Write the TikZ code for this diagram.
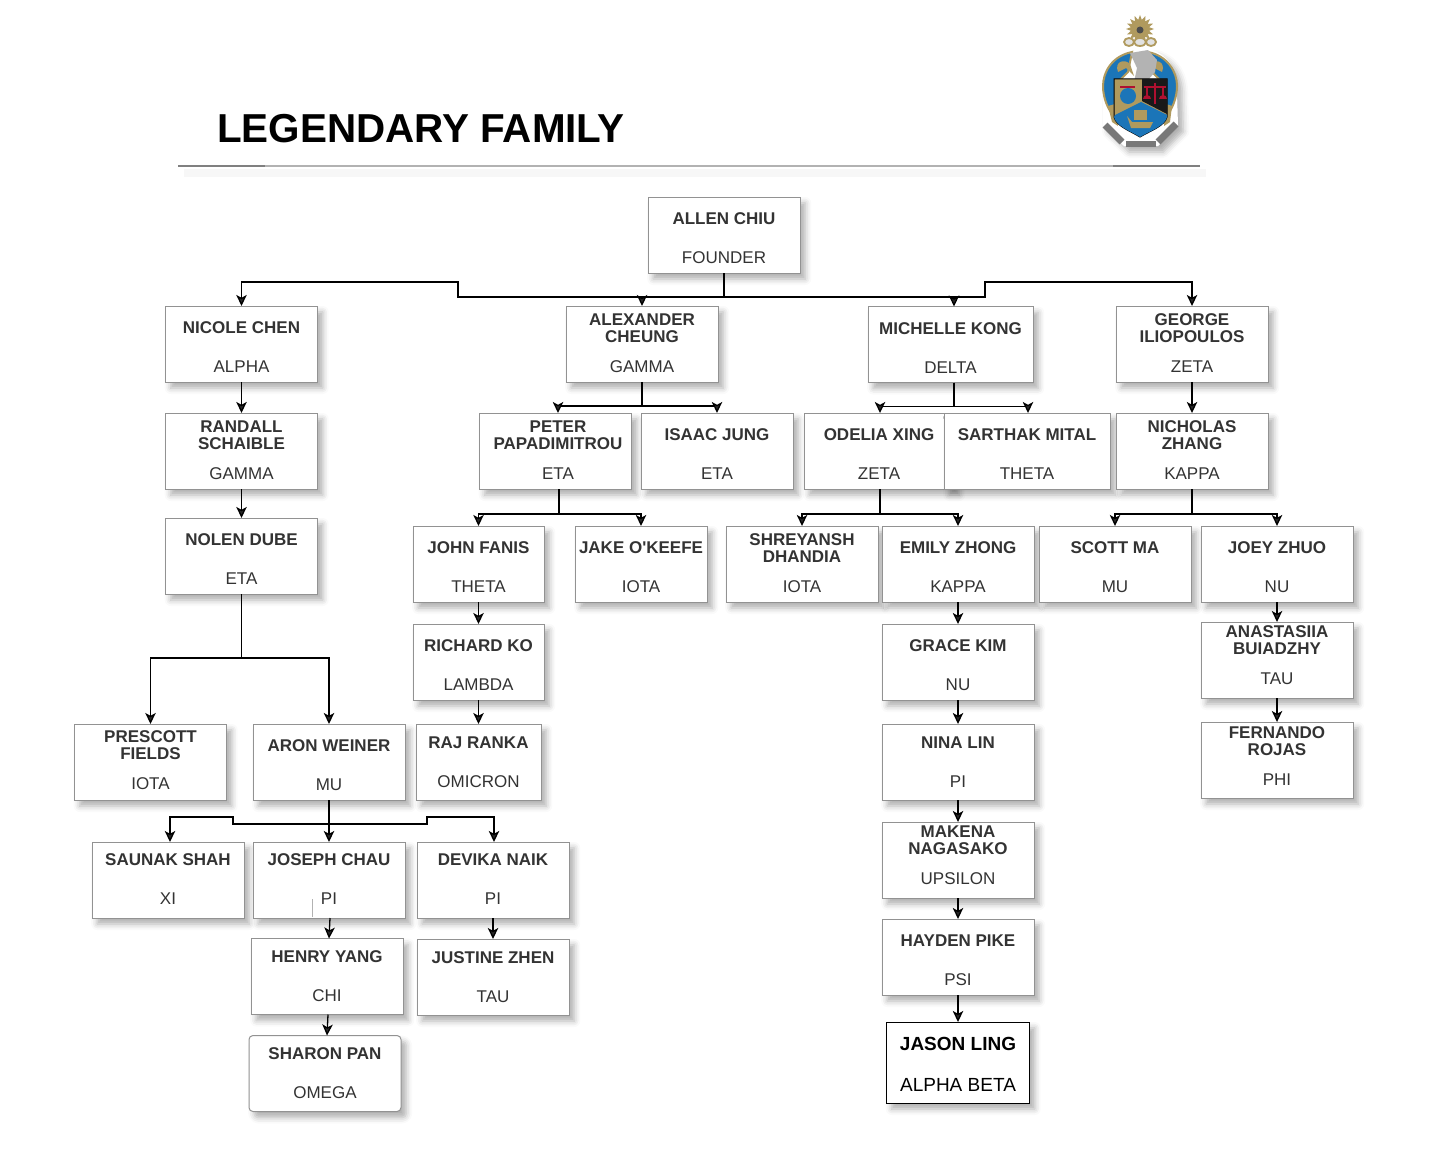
\documentclass[tikz,border=0pt]{standalone}
\usepackage{fontspec}
\setmainfont{Liberation Sans}
\usepackage{xcolor}
\usepackage{tikz}
\usetikzlibrary{arrows.meta,positioning,shapes.geometric,shadows.blur}
\definecolor{boxedge}{HTML}{929292}
\definecolor{boxtext}{HTML}{333333}
\definecolor{crestgold}{HTML}{B09A5E}
\definecolor{crestblue}{HTML}{1B75B8}
\definecolor{crestred}{HTML}{B01030}
\definecolor{crestgrey}{HTML}{A0A0A0}

\begin{document}
\begin{tikzpicture}[
  x=0.5pt,y=-0.5pt,
  softblur/.style={blur shadow={shadow xshift=2.6pt,shadow yshift=-3pt,shadow blur radius=3pt,shadow opacity=32}},
  box/.style={draw=boxedge,fill=white,line width=0.5pt,minimum width=76pt,minimum height=38pt,inner sep=0pt,outer sep=0pt,align=center,text=boxtext,
    font=\fontsize{8.5}{8.5}\selectfont,softblur},
  textdown/.style={execute at begin node={\rule{0pt}{#1}}},
  textup/.style={execute at end node={\rule[-#1]{0pt}{0pt}}},
  onename/.style={box,textdown=28.7pt},
  twoname/.style={box,textup=1pt},
  arr/.style={-{Stealth[length=5.5pt,width=5.2pt,inset=1.4pt]},line width=0.65pt},
  rule/.style={line width=0.8pt}
]
\useasboundingbox (0,0) rectangle (1438,1172);
\node[font=\bfseries\fontsize{20.2}{20.2}\selectfont] (title) at (421,129) {LEGENDARY FAMILY};
\coordinate (ruleleft) at (178,166);
\coordinate (rulemidl) at (265,166);
\coordinate (rulemidr) at (1113,166);
\coordinate (ruleright) at (1200,166);
\draw[draw=black!3,line width=4pt] ([xshift=3pt,yshift=-3.5pt]ruleleft) -- ([xshift=3pt,yshift=-3.5pt]ruleright);
\draw[rule,draw=black!30] (rulemidl) -- (rulemidr);
\draw[rule,draw=black!50] (ruleleft) -- (rulemidl);
\draw[rule,draw=black!50] (rulemidr) -- (ruleright);

% crest
\path[fill=white,softblur] (1128,50) -- (1152,50) .. controls (1170,56) and (1178,72) .. (1177,92) -- (1178,126) -- (1158,146) -- (1124,146) -- (1103,126) -- (1103,80) .. controls (1106,66) and (1114,56) .. (1128,50) -- cycle;
\node[star,star points=16,star point ratio=1.5,fill=crestgold,minimum size=14pt,inner sep=0pt] (crestsun) at (1140,29) {};
\node[circle,fill=black!70,minimum size=3.5pt,inner sep=0pt] (crestcore) at (1140,30) {};
\draw[crestgold,line width=0.9pt,fill=crestgrey!30] (1129,42) ellipse (5 and 4) (1140,42) ellipse (6 and 4) (1151,42) ellipse (5 and 4);
\draw[crestgold,line width=1pt,fill=crestblue] (1132,52) .. controls (1112,56) and (1103,72) .. (1103,86) .. controls (1103,98) and (1108,110) .. (1114,116) -- (1116,84) -- (1128,72) -- cycle;
\draw[crestgold,line width=1pt,fill=crestblue] (1148,52) .. controls (1168,56) and (1177,72) .. (1177,86) .. controls (1177,98) and (1172,110) .. (1166,116) -- (1164,84) -- (1152,72) -- cycle;
\fill[crestgold] (1118,72) .. controls (1114,62) and (1124,58) .. (1130,64) -- (1134,76) -- (1126,68) -- cycle;
\fill[crestgold] (1162,72) .. controls (1166,62) and (1156,58) .. (1150,64) -- (1146,76) -- (1154,68) -- cycle;
\fill[crestgold] (1108,106) -- (1115,104) -- (1118,126) -- (1112,122) -- cycle;
\fill[crestgold] (1172,106) -- (1166,104) -- (1164,126) -- (1170,122) -- cycle;
\fill[crestgrey!80] (1130,53) -- (1148,50) -- (1157,60) -- (1155,72) -- (1148,80) -- (1134,82) -- (1137,68) -- cycle;
\draw[crestgrey!75!black,line width=3.4pt] (1105,125) -- (1122,142);
\draw[crestgrey!75!black,line width=3.4pt] (1126,144) -- (1156,144);
\draw[crestgrey!75!black,line width=3.4pt] (1158,142) -- (1176,124);
\draw[black,fill=crestgold,line width=0.5pt] (1114,79) -- (1167,79) -- (1167,117) .. controls (1165,126) and (1150,131) .. (1140,137) .. controls (1130,131) and (1116,126) .. (1114,117) -- cycle;
\fill[black!90] (1142,79) -- (1167,79) -- (1167,114) -- (1142,101) -- cycle;
\fill[crestblue] (1141,102) -- (1167,115) -- (1167,117) .. controls (1165,126) and (1150,131) .. (1140,137) .. controls (1130,131) and (1116,126) .. (1114,117) -- (1115,115) -- cycle;
\fill[crestblue] (1128,96) circle (8);
\draw[crestred,line width=1pt] (1120,87) -- (1135,87);
\draw[crestred,line width=0.8pt] (1155,83) -- (1155,104) (1144,87) -- (1166,87) (1147,87) -- (1147,99) (1163,87) -- (1163,99);
\fill[crestred] (1143,99) arc (180:360:4) -- cycle (1159,99) arc (180:360:4) -- cycle;
\fill[crestgold] (1134,110) rectangle (1147,120);
\fill[crestgold] (1127,116) -- (1132,122) -- (1153,122) -- (1150,128) -- (1131,128) -- cycle;

\node[onename] (allen) at (724,235) {\textbf{ALLEN CHIU}\\[11pt]FOUNDER};

\node[onename] (nicole) at (241.5,344) {\textbf{NICOLE CHEN}\\[11pt]ALPHA};
\node[twoname,below=15.5pt of nicole] (randall) {\textbf{RANDALL}\\\textbf{SCHAIBLE}\\[6.5pt]GAMMA};
\node[onename,below=14.5pt of randall] (nolen) {\textbf{NOLEN DUBE}\\[11pt]ETA};
\node[twoname,textup=2pt] (prescott) at (150.5,762) {\textbf{PRESCOTT}\\\textbf{FIELDS}\\[6.5pt]IOTA};
\node[onename] (aron) at (329,762) {\textbf{ARON WEINER}\\[11pt]MU};
\node[box,textup=1pt] (saunak) at (168,880) {\textbf{SAUNAK SHAH}\\[11pt]XI};
\node[box,textup=1pt,below=21pt of aron] (joseph) {\textbf{JOSEPH CHAU}\\[11pt]PI};
\node[box,textup=1pt] (devika) at (493,880) {\textbf{DEVIKA NAIK}\\[11pt]PI};
\node[box,below=10.5pt of devika] (justine) {\textbf{JUSTINE ZHEN}\\[11pt]TAU};
\node[box] (henry) at (327,976.5) {\textbf{HENRY YANG}\\[11pt]CHI};
\node[box,rounded corners=2pt,below=10.5pt of henry,xshift=-1pt] (sharon) {\textbf{SHARON PAN}\\[11pt]OMEGA};

\node[twoname] (alexander) at (642,344) {\textbf{ALEXANDER}\\\textbf{CHEUNG}\\[6.5pt]GAMMA};
\node[twoname] (peter) at (555.5,451) {\hspace*{2.5pt}\textbf{PETER}\\\hspace*{2.5pt}\textbf{PAPADIMITROU}\\[6.5pt]\hspace*{2.5pt}ETA};
\node[onename] (isaac) at (717,451) {\textbf{ISAAC JUNG}\\[11pt]ETA};
\node[onename,minimum width=65.5pt] (john) at (478.5,564) {\textbf{JOHN FANIS}\\[11pt]THETA};
\node[onename,minimum width=66pt] (jake) at (641,564) {\textbf{JAKE O\textquotesingle KEEFE}\\[11pt]IOTA};
\node[onename,minimum width=65.5pt,below=11pt of john] (richard) {\textbf{RICHARD KO}\\[11pt]LAMBDA};
\node[box,minimum width=62.5pt,below=12pt of richard] (raj) {\textbf{RAJ RANKA}\\[11pt]OMICRON};

\node[onename,minimum width=82.5pt] (michelle) at (950.5,344.5) {\textbf{MICHELLE KONG}\\[11pt]DELTA};
\node[onename,minimum width=75pt] (odelia) at (879,451) {\textbf{ODELIA XING}\\[11pt]ZETA};
\node[onename,minimum width=83pt] (sarthak) at (1027,451) {\textbf{SARTHAK MITAL}\\[11pt]THETA};
\node[twoname] (george) at (1192,344) {\textbf{GEORGE}\\\textbf{ILIOPOULOS}\\[6.5pt]ZETA};
\node[twoname,below=15.5pt of george] (nicholas) {\textbf{NICHOLAS}\\\textbf{ZHANG}\\[6.5pt]KAPPA};
\node[twoname] (shreyansh) at (802,564) {\textbf{SHREYANSH}\\\textbf{DHANDIA}\\[6.5pt]IOTA};
\node[onename] (emily) at (958,564) {\textbf{EMILY ZHONG}\\[11pt]KAPPA};
\node[onename] (scott) at (1115,564) {\textbf{SCOTT MA}\\[11pt]MU};
\node[onename] (joey) at (1277,564) {\textbf{JOEY ZHUO}\\[11pt]NU};
\node[box,textup=4.5pt,below=10pt of joey] (anastasiia) {\textbf{ANASTASIIA}\\\textbf{BUIADZHY}\\[6.5pt]TAU};
\node[box,textup=4pt,below=12pt of anastasiia] (fernando) {\textbf{FERNANDO}\\\textbf{ROJAS}\\[6.5pt]PHI};
\node[onename,below=11pt of emily] (grace) {\textbf{GRACE KIM}\\[11pt]NU};
\node[box,below=12pt of grace] (nina) {\textbf{NINA LIN}\\[11pt]PI};
\node[box,textup=4.5pt,below=11pt of nina] (makena) {\textbf{MAKENA}\\\textbf{NAGASAKO}\\[6.5pt]UPSILON};
\node[onename,below=10.5pt of makena] (hayden) {\textbf{HAYDEN PIKE}\\[11pt]PSI};
\node[box,draw=black,text=black,minimum width=71.5pt,minimum height=40.5pt,font=\fontsize{9.5}{9.5}\selectfont,textdown=29pt,below=13.5pt of hayden] (jason) {\textbf{JASON LING}\\[11pt]ALPHA BETA};

\draw[draw=black!30,line width=0.4pt] ([xshift=-8.5pt,yshift=-9.5pt]joseph.center) -- ([xshift=-8.5pt,yshift=0.5pt]joseph.south);

\coordinate (rootbus) at (724,297);
\draw[line width=0.65pt] (allen.south) -- (rootbus);
\draw[arr] (rootbus) -- (458,297) -- (458,282) -| (nicole.north);
\draw[arr] (rootbus) -| (alexander.north);
\draw[arr] (rootbus) -| ([xshift=1.75pt]michelle.north);
\draw[arr] (rootbus) -- (985,297) -- (985,282) -| (george.north);
\draw[arr] (nicole) -- (randall);
\draw[arr] (randall) -- (nolen);
\draw[arr] (nolen.south) -- ++(0,64) -| (prescott.north);
\draw[arr] (nolen.south) -- ++(0,64) -| (aron.north);
\draw[arr] (aron) -- (joseph);
\draw[arr] (aron.south) -- ++(0,24) -- (233,824) -- (233,817) -| ([xshift=1pt]saunak.north);
\draw[arr] (aron.south) -- ++(0,24) -- (427,824) -- (427,817) -| ([xshift=0.5pt]devika.north);
\draw[arr] ([xshift=0.5pt]joseph.south) -- ([xshift=1pt]henry.north);
\draw[arr] (devika) -- (justine);
\draw[arr] ([xshift=0.5pt]henry.south) -- ([xshift=1pt]sharon.north);
\draw[arr] (alexander.south) -- ++(0,24) -| ([xshift=1.25pt]peter.north);
\draw[arr] (alexander.south) -- ++(0,24) -| (isaac.north);
\draw[arr] ([xshift=1.75pt]peter.south) -- ++(0,25) -| (john.north);
\draw[arr] ([xshift=1.75pt]peter.south) -- ++(0,25) -| (jake.north);
\draw[arr] (john) -- (richard);
\draw[arr] (richard) -- (raj);
\draw[arr] ([xshift=1.75pt]michelle.south) -- ++(0,24) -| ([xshift=0.5pt]odelia.north);
\draw[arr] ([xshift=1.75pt]michelle.south) -- ++(0,24) -| ([xshift=0.5pt]sarthak.north);
\draw[arr] (george) -- (nicholas);
\draw[arr] ([xshift=0.5pt]odelia.south) -- ++(0,25) -| (shreyansh.north);
\draw[arr] ([xshift=0.5pt]odelia.south) -- ++(0,25) -| (emily.north);
\draw[arr] (nicholas.south) -- ++(0,25) -| (scott.north);
\draw[arr] (nicholas.south) -- ++(0,25) -| (joey.north);
\draw[arr] (joey) -- (anastasiia);
\draw[arr] (anastasiia) -- (fernando);
\draw[arr] (emily) -- (grace);
\draw[arr] (grace) -- (nina);
\draw[arr] (nina) -- (makena);
\draw[arr] (makena) -- (hayden);
\draw[arr] (hayden) -- (jason);
\end{tikzpicture}
\end{document}
